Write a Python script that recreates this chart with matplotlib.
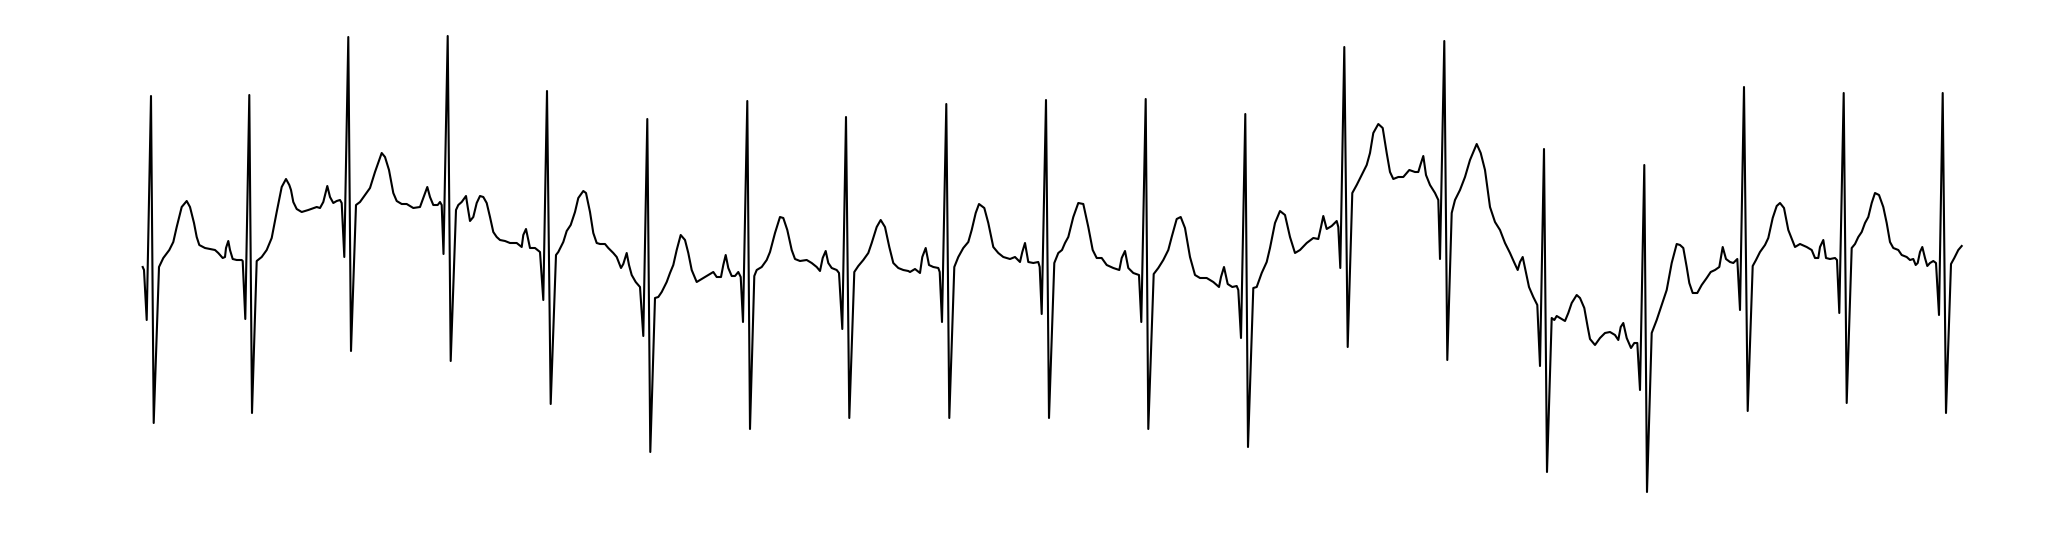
import numpy as np
import matplotlib
matplotlib.use('Agg')
import matplotlib.pyplot as plt

dpi = 100

# ECG excerpt: sample index and amplitude (ADC counts, baseline-relative)
sample = [
    142.7, 144, 146.7, 151, 153.7, 159, 163.3, 169.3, 173.3, 176.7,
    181.7, 186.7, 190, 194, 196.7, 199.3, 205, 210, 215, 218.3,
    222.7, 225, 226, 228.3, 230, 232.7, 236.7, 241.7, 242.7, 245.3,
    249.3, 252, 256.7, 261.7, 266.7, 271.7, 276.7, 281.7, 286, 289.3,
    291, 293.3, 296.7, 301.7, 308.3, 316.7, 320, 323.3, 327.3, 330,
    333.3, 336.7, 340, 341.7, 344.3, 348.3, 351, 356, 360, 365,
    370, 375, 381.7, 385, 389, 393.3, 396.7, 401.7, 406.7, 413.3,
    420, 423.3, 427.3, 430, 433.3, 437.7, 440, 441.7, 443.5, 447.7,
    450.7, 456, 458.3, 461.7, 466, 467.7, 470, 473.3, 476.7, 480,
    483.3, 486.7, 490, 493.3, 496.7, 500, 505, 510, 516.7, 521.7,
    523.3, 526, 528.3, 530, 535, 540, 543.3, 547, 550.7, 556,
    558.3, 563.3, 566.7, 570.7, 575, 578.3, 583.3, 586, 590, 593.3,
    596.7, 600, 605, 608.3, 613.3, 616.7, 621, 623.3, 626.7, 629,
    631.7, 635.7, 640, 643.3, 647.3, 650.3, 655, 658.3, 661.7, 666.7,
    670, 673.3, 676.7, 680.7, 685, 688.3, 691.7, 696.7, 701.7, 708.3,
    713.3, 716.7, 721, 723.3, 725.7, 728.3, 731.7, 735, 738.3, 740.7,
    743, 747.3, 750, 754.3, 756.7, 761.7, 766.7, 770, 775, 780,
    783.3, 787.3, 791.7, 795, 800, 806.7, 811.7, 816.7, 820, 822.7,
    825.7, 828.3, 831.7, 836.7, 839, 842.3, 846, 849.3, 854.3, 858.3,
    863.3, 868.3, 871.7, 876.7, 880.7, 885, 889.3, 893.3, 898.3, 903.3,
    908.3, 910, 915, 920, 922.3, 925.7, 929, 933.3, 938.3, 939.7,
    942, 946.3, 949.3, 954.3, 958.3, 963.3, 968.3, 971.7, 975.7, 979,
    984.3, 988.3, 993.3, 998.3, 1003.3, 1010, 1015, 1020, 1022.3, 1025,
    1028.3, 1033.3, 1038.3, 1039.7, 1041.7, 1046, 1049, 1054.3, 1058.3, 1062,
    1065, 1068.3, 1073.3, 1078.3, 1083.3, 1088.3, 1092.7, 1096.7, 1101.7, 1106.7,
    1113.3, 1119.3, 1121.7, 1125, 1128.3, 1133.3, 1139, 1141.3, 1145.7, 1148.3,
    1153.7, 1158.3, 1163.3, 1168.3, 1171.7, 1176.7, 1180.7, 1185, 1190, 1195,
    1200, 1206.7, 1213.3, 1219, 1221, 1224, 1227.7, 1232.3, 1236.7, 1238.3,
    1241, 1245.3, 1248, 1253.3, 1256.7, 1261.7, 1266.7, 1270, 1275, 1280,
    1285, 1290, 1295, 1300, 1306.7, 1313.3, 1318.3, 1321, 1323.3, 1326.7,
    1331.7, 1336.7, 1338.3, 1340.3, 1344.3, 1347.7, 1352.3, 1356.7, 1361.7, 1366.7,
    1370, 1373.3, 1378.3, 1382.7, 1386.7, 1390, 1393.3, 1398.3, 1403.3, 1409.3,
    1415, 1418.3, 1420.7, 1423.3, 1426, 1430, 1435, 1438.3, 1440, 1444.3,
    1447.3, 1451.7, 1455, 1460, 1465, 1470, 1476.7, 1480.7, 1485, 1490,
    1495, 1500, 1505, 1510, 1514, 1517.7, 1520, 1522.7, 1525, 1529,
    1533.3, 1537.3, 1540, 1544, 1547, 1551.7, 1554.3, 1556.7, 1561.7, 1565,
    1568.3, 1571.7, 1576.7, 1580, 1584.3, 1587.7, 1590, 1595, 1600, 1605,
    1610, 1615, 1618.3, 1620.7, 1623.3, 1626.7, 1631, 1634.3, 1637.3, 1640,
    1644.3, 1647, 1651.7, 1656.7, 1661.7, 1666.7, 1671.7, 1676.7, 1680, 1683.3,
    1686.7, 1689.3, 1692.7, 1697.3, 1701.7, 1706.7, 1710.7, 1715, 1719.3, 1722.7,
    1726, 1730, 1733.3, 1737.3, 1740, 1744, 1747.7, 1752.7, 1756, 1760,
    1765, 1768.3, 1772.7, 1776.7, 1780, 1784, 1788.3, 1795, 1800, 1806.7,
    1811.7, 1815, 1818.3, 1820, 1823.3, 1826, 1830, 1835, 1837, 1839.3,
    1843.7, 1846.7, 1851.7, 1855, 1858.3, 1861.7, 1865, 1868.3, 1871.7, 1875,
    1879, 1883.3, 1886.7, 1890, 1893.3, 1898.3, 1901.7, 1906.7, 1910, 1913.3,
    1915.7, 1917.7, 1920, 1922.3, 1925, 1927.3, 1930, 1933.3, 1936, 1939,
    1942.7, 1946, 1951, 1954.3, 1958.3, 1961.7,
]

amplitude = [
    3, 0, -50, 174, -153, 3, 12, 20, 28, 43,
    63, 69, 63, 47, 33, 25, 22, 21, 20, 17,
    12, 13, 22, 29, 20, 11, 10, 10, 9, -49,
    175, -143, 9, 13, 20, 32, 58, 83, 91, 85,
    80, 68, 61, 58, 60, 63, 62, 68, 84, 73,
    67, 69, 70, 67, 13, 233, -81, 65, 68, 75,
    82, 98, 117, 113, 100, 77, 69, 66, 66, 62,
    63, 72, 83, 73, 65, 65, 68, 65, 16, 234,
    -91, 60, 65, 68, 74, 63, 49, 53, 67, 74,
    73, 67, 53, 38, 33, 30, 29, 27, 27, 23,
    35, 41, 30, 22, 22, 18, -30, 179, -134, 15,
    18, 28, 39, 45, 58, 72, 79, 77, 58, 37,
    27, 26, 26, 22, 17, 13, 2, 6, 17, 5,
    -5, -12, -17, -66, 151, -182, -28, -27, -22, -12,
    -3, 5, 20, 35, 30, 17, 0, -12, -9, -5,
    -2, -7, -7, 5, 15, 2, -6, -6, -2, -7,
    -52, 169, -159, -6, 0, 3, 10, 18, 37, 53,
    52, 40, 20, 11, 9, 10, 7, 3, -1, 12,
    19, 7, 2, 0, -3, -59, 153, -148, -2, 4,
    10, 17, 27, 43, 50, 43, 23, 7, 2, 0,
    -1, -2, 1, -3, 13, 22, 5, 3, 2, -2,
    -52, 166, -148, 3, 13, 22, 28, 40, 57, 66,
    62, 47, 23, 17, 13, 11, 13, 8, 18, 27,
    8, 7, 8, 3, -44, 170, -148, 7, 17, 20,
    27, 33, 53, 67, 66, 43, 20, 12, 12, 5,
    2, 0, 12, 19, 2, -3, -5, -52, 171, -159,
    -4, 2, 10, 20, 33, 51, 53, 42, 13, -5,
    -8, -8, -12, -17, -7, 3, -14, -17, -16, -20,
    -68, 156, -177, -18, -17, -3, 8, 22, 47, 59,
    55, 33, 17, 20, 27, 32, 31, 43, 54, 41,
    44, 49, 43, 2, 223, -77, 77, 85, 95, 105,
    117, 137, 146, 142, 117, 98, 91, 93, 93, 100,
    98, 98, 106, 114, 95, 85, 77, 70, 11, 229,
    -90, 57, 70, 80, 93, 110, 126, 117, 100, 63,
    48, 40, 27, 17, 8, 0, 8, 13, 2, -17,
    -27, -35, -96, 121, -202, -48, -50, -46, -49, -51,
    -43, -33, -25, -28, -38, -57, -69, -75, -68, -63,
    -62, -65, -70, -57, -53, -68, -78, -73, -73, -120,
    105, -222, -63, -50, -35, -20, 7, 26, 25, 22,
    3, -13, -23, -23, -15, -8, -2, 0, 3, 23,
    11, 8, 7, 11, -40, 183, -141, 4, 10, 18,
    25, 32, 52, 64, 67, 62, 40, 23, 26, 23,
    20, 12, 12, 23, 30, 12, 11, 12, 10, -43,
    177, -133, 22, 26, 33, 38, 47, 53, 67, 77,
    75, 63, 47, 28, 22, 20, 15, 13, 10, 11,
    5, 7, 18, 23, 12, 4, 7, 9, 7, -45,
    177, -143, 6, 12, 20, 24,
]

fig = plt.figure(figsize=(2055 / dpi, 538 / dpi), dpi=dpi)
ax = fig.add_axes([0, 0, 1, 1])
ax.plot(sample, amplitude, color='black', linewidth=1.5)
ax.set_xlim(0, 2055)
ax.set_ylim(270 - 538, 270)
ax.axis('off')

fig.savefig('out.png', dpi=dpi)
